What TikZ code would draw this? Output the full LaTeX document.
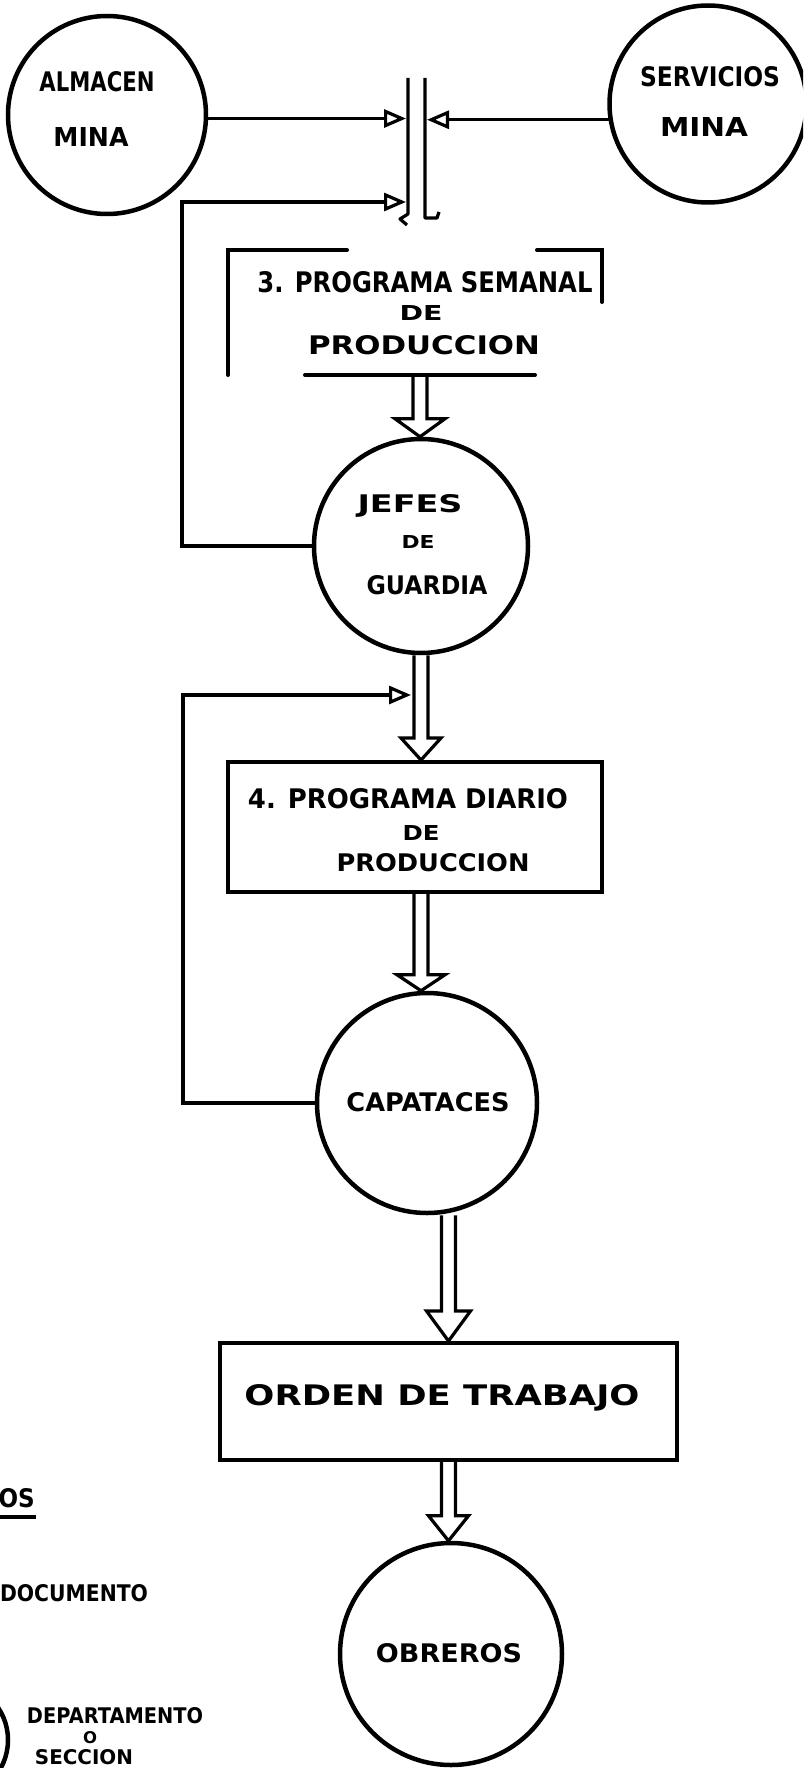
\documentclass[tikz,border=0pt]{standalone}
\usepackage{fontspec}
\setmainfont{DejaVu Sans}
\usetikzlibrary{arrows.meta,calc}
\newcommand\fitw[3]{\resizebox{#1pt}{#2pt}{#3}}
\newcommand\dblarrow[4]{%
  \draw[dblline] let \p1=(#1), \p2=(#2) in
    (\x1-7pt,\y1) -- (\x1-7pt,\y2+#4pt) -- (\x1-#3pt,\y2+#4pt) -- (\x1,\y2)
    -- (\x1+#3pt,\y2+#4pt) -- (\x1+7pt,\y2+#4pt) -- (\x1+7pt,\y1);}
\begin{document}
\begin{tikzpicture}[x=1pt,y=-1pt,
  circ/.style={draw, circle, line width=4.5pt, inner sep=0pt},
  boxn/.style={draw, rectangle, line width=4pt, inner sep=0pt},
  boxline/.style={line width=4pt, line cap=round},
  lbl/.style={inner sep=0pt, anchor=base, font=\bfseries},
  conn/.style={line width=3.2pt},
  tri/.style={conn, -{Triangle[open, length=22pt, width=18pt, fill=white]}},
  dblline/.style={line width=3.2pt, line join=miter}]
\useasboundingbox (0,0) rectangle (803,1768);
\clip (0,0) rectangle (803,1768);

% circles
\node[circ, minimum size=198pt] (almacen) at (107,115) {};
\node[circ, minimum size=197pt] (servicios) at (708,104) {};
\node[circ, minimum size=214pt] (jefes) at (421,546) {};
\node[circ, minimum size=220pt] (capataces) at (427,1103) {};
\node[circ, minimum size=222pt] (obreros) at (451,1654) {};
\node[circ, minimum size=116pt] (legcirc) at (-50,1740) {};

% boxes
\node[boxn, minimum width=374pt, minimum height=130pt] (box4) at (415,827) {};
\node[boxn, minimum width=457pt, minimum height=117pt] (orden) at (448.5,1401.5) {};
\draw[boxline] (347,250) -- (228,250) -- (228,375);
\draw[boxline] (537,250) -- (602,250) -- (602,302);
\draw[boxline] (305,375) -- (535,375);
\coordinate (b3bot) at (420,377);

% vertical bars
\draw[conn, line join=round] (408,78) -- (408,214) -- (400,219) -- (407,225);
\draw[conn, line join=round] (425,78) -- (425,218) -- (437,218) -- (439,212);
\coordinate (barL) at (406,0);
\coordinate (barR) at (427,0);
\coordinate (loopA) at (182,202);
\coordinate (loopB) at (183,695);
\coordinate (shaftL) at (411,0);

% connectors
\draw[tri] (almacen.-2) -- (almacen.-2 -| barL);
\draw[tri] (servicios.189) -- (servicios.189 -| barR);
\draw[tri] (jefes.west) -| (loopA) -- (loopA -| barL);
\draw[tri] (capataces.west) -| (loopB) -- (loopB -| shaftL);

\dblarrow{b3bot}{jefes.north}{25}{18}
\dblarrow{jefes.south}{box4.north -| jefes.south}{20}{22}
\dblarrow{box4.south -| jefes.south}{capataces.north}{24}{16}
\dblarrow{capataces.south -| orden.north}{orden.north}{22}{30}
\dblarrow{orden.south}{obreros.north}{20}{25}

% texts
\node[lbl] (tAlm1) at (97,92) {\fitw{115}{20}{ALMACEN}};
\node[lbl] (tAlm2) at (91,146.5) {\fitw{75}{19}{MINA}};
\node[lbl] (tSrv1) at (710,87) {\fitw{140}{20}{SERVICIOS}};
\node[lbl] (tSrv2) at (704,136.5) {\fitw{88}{19}{MINA}};
\node[lbl] (tB3a) at (425,292.5) {\fitw{335}{21}{3. PROGRAMA SEMANAL}};
\node[lbl] (tB3b) at (421,320.5) {\fitw{43}{15}{DE}};
\node[lbl] (tB3c) at (424,354.5) {\fitw{232}{19}{PRODUCCION}};
\node[lbl] (tJ1) at (410,512) {\fitw{105}{18}{JEFES}};
\node[lbl] (tJ2) at (418,548.5) {\fitw{33}{13}{DE}};
\node[lbl] (tJ3) at (427,594.5) {\fitw{121}{19}{GUARDIA}};
\node[lbl] (tB4a) at (408,808) {\fitw{320}{20}{4. PROGRAMA DIARIO}};
\node[lbl] (tB4b) at (421,840.5) {\fitw{37}{15}{DE}};
\node[lbl] (tB4c) at (433,871) {\fitw{193}{18}{PRODUCCION}};
\node[lbl] (tCap) at (428,1111.5) {\fitw{163}{19}{CAPATACES}};
\node[lbl] (tOrd) at (442,1405.5) {\fitw{395}{21}{ORDEN DE TRABAJO}};
\node[lbl] (tObr) at (449,1662.5) {\fitw{146}{19}{OBREROS}};
\node[lbl, anchor=base east] (tLos) at (35,1507.5) {\fitw{50}{19}{LOS}};
\draw[conn] (tLos.south west |- 0,1517) -- (36,1517);
\node[lbl] (tDoc) at (74,1601.5) {\fitw{148}{17}{DOCUMENTO}};
\node[lbl] (tDep1) at (115,1723) {\fitw{176}{16}{DEPARTAMENTO}};
\node[lbl] (tDep2) at (90,1743) {\fitw{14}{12}{O}};
\node[lbl] (tDep3) at (84,1764) {\fitw{98}{15}{SECCION}};
\end{tikzpicture}
\end{document}
